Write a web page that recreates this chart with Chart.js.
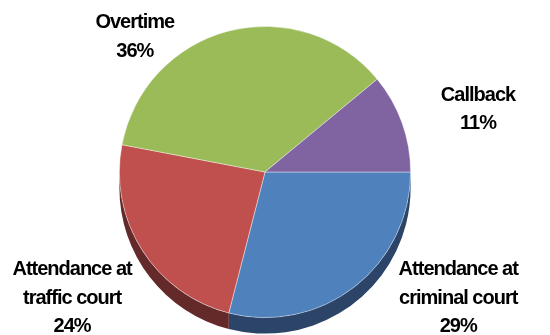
<!DOCTYPE html>
<html>
<head>
<meta charset="utf-8">
<script src="https://cdn.jsdelivr.net/npm/chart.js@4.4.1/dist/chart.umd.min.js"></script>
<style>
  html, body { margin: 0; padding: 0; background: #fff; }
  #wrap { width: 550px; height: 335px; }
</style>
</head>
<body>
<div id="wrap"><canvas id="pieChart" width="550" height="335"></canvas></div>
<script>
// data
const categories = ["Attendance at\ncriminal court", "Attendance at\ntraffic court", "Overtime", "Callback"];
const shares = [29, 24, 36, 11];

// look
const faceColors = ["#4F81BD", "#C0504D", "#9BBB59", "#8064A2"];
const sideColors = ["#2B4467", "#632A29", "#566B2E", "#47375C"];
const depth = 16;
// label block centre, relative to the slice's outer edge at its middle angle
const labelNudge = [[104, 11], [-70, 48], [-94, 6], [76, -13]];

// side of the pie (3d look), only the front half shows
const pieSide = {
  id: "pieSide",
  beforeDatasetsDraw(chart) {
    const ctx = chart.ctx;
    const meta = chart.getDatasetMeta(0);
    meta.data.forEach((arc, i) => {
      const p = arc.getProps(["x", "y", "startAngle", "endAngle", "outerRadius"], true);
      const s = Math.max(p.startAngle, 0);
      const e = Math.min(p.endAngle, Math.PI);
      if (e <= s) return;
      ctx.save();
      ctx.beginPath();
      ctx.arc(p.x, p.y, p.outerRadius, s, e);
      ctx.arc(p.x, p.y + depth, p.outerRadius, e, s, true);
      ctx.closePath();
      ctx.fillStyle = sideColors[i];
      ctx.fill();
      ctx.restore();
    });
  }
};

// outside labels: name + percent
const pieLabels = {
  id: "pieLabels",
  afterDatasetsDraw(chart) {
    const ctx = chart.ctx;
    const meta = chart.getDatasetMeta(0);
    const total = shares.reduce((a, b) => a + b, 0);
    const lh = 28.5;
    meta.data.forEach((arc, i) => {
      const p = arc.getProps(["x", "y", "startAngle", "endAngle", "outerRadius"], true);
      const mid = (p.startAngle + p.endAngle) / 2;
      const ex = p.x + Math.cos(mid) * p.outerRadius;
      const ey = p.y + Math.sin(mid) * p.outerRadius;
      const cx = ex + labelNudge[i][0];
      const cy = ey + labelNudge[i][1];
      const lines = categories[i].split("\n");
      lines.push(Math.round(shares[i] / total * 100) + "%");
      ctx.save();
      ctx.font = "bold 20px 'Liberation Sans', Arial, sans-serif";
      ctx.letterSpacing = "-1px";
      ctx.fillStyle = "#000";
      ctx.textAlign = "center";
      ctx.textBaseline = "middle";
      const top = cy - (lines.length - 1) * lh / 2;
      lines.forEach((t, k) => ctx.fillText(t, cx, top + k * lh));
      ctx.restore();
    });
  }
};

const ctx = document.getElementById("pieChart").getContext("2d");
new Chart(ctx, {
  type: "pie",
  data: {
    labels: categories,
    datasets: [{
      data: shares,
      backgroundColor: faceColors,
      borderColor: "rgba(255,255,255,0.5)",
      borderWidth: 0.8
    }]
  },
  options: {
    responsive: false,
    animation: false,
    rotation: 90,
    layout: { padding: { top: 26, bottom: 17, left: 100, right: 120 } },
    plugins: {
      legend: { display: false },
      tooltip: { enabled: false }
    }
  },
  plugins: [pieSide, pieLabels]
});
</script>
</body>
</html>
